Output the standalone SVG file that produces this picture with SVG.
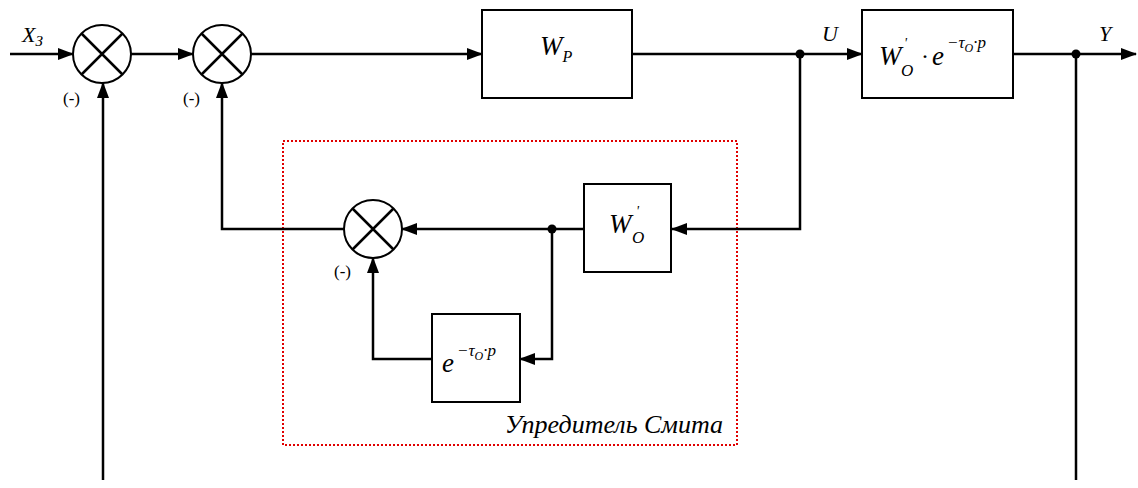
<svg xmlns="http://www.w3.org/2000/svg" width="1138" height="488" viewBox="0 0 1138 488">
<style>
.ln{fill:none;stroke:#000;stroke-width:2.5}
.bx{fill:#fff;stroke:#000;stroke-width:2}
.cr{fill:#fff;stroke:#000;stroke-width:2}
text{font-family:'Liberation Serif','Times New Roman',serif;fill:#000}
.t{font-style:italic}
.m{font-size:17px}
</style>
<defs>
<marker id="ar" markerWidth="16" markerHeight="12" refX="15" refY="6" orient="auto" markerUnits="userSpaceOnUse">
<path d="M0,0 L16,6 L0,12 Z" fill="#000"/>
</marker>
</defs>
<rect x="283" y="141" width="454" height="304" fill="none" stroke="#e00000" stroke-width="2" stroke-dasharray="2,2"/>
<g id="connectors">
<path class="ln" d="M10,54 H73" marker-end="url(#ar)"/>
<path class="ln" d="M131,54 H193" marker-end="url(#ar)"/>
<path class="ln" d="M251,54 H482" marker-end="url(#ar)"/>
<path class="ln" d="M632,54 H862" marker-end="url(#ar)"/>
<path class="ln" d="M1013,54 H1136" marker-end="url(#ar)"/>
<path class="ln" d="M103,480 V83" marker-end="url(#ar)"/>
<path class="ln" d="M344,229 H222 V83" marker-end="url(#ar)"/>
<path class="ln" d="M800,54 V229 H672" marker-end="url(#ar)"/>
<path class="ln" d="M1076,54 V480"/>
<path class="ln" d="M584,229 H402" marker-end="url(#ar)"/>
<path class="ln" d="M552,229 V359 H520" marker-end="url(#ar)"/>
<path class="ln" d="M432,359 H373 V258" marker-end="url(#ar)"/>
<circle cx="800" cy="54" r="4.5"/>
<circle cx="1076" cy="54" r="4.5"/>
<circle cx="552" cy="229" r="4.5"/>
</g>
<g id="sum1">
<circle class="cr" cx="102" cy="54" r="29"/>
<path class="ln" d="M81.5,33.5 L122.5,74.5 M122.5,33.5 L81.5,74.5" stroke-width="2"/>
<text class="m" x="63" y="104">(-)</text>
</g>
<g id="sum2">
<circle class="cr" cx="222" cy="54" r="29"/>
<path class="ln" d="M201.5,33.5 L242.5,74.5 M242.5,33.5 L201.5,74.5" stroke-width="2"/>
<text class="m" x="183" y="104">(-)</text>
</g>
<g id="sum3">
<circle class="cr" cx="373" cy="229" r="29"/>
<path class="ln" d="M352.5,208.5 L393.5,249.5 M393.5,208.5 L352.5,249.5" stroke-width="2"/>
<text class="m" x="334" y="277">(-)</text>
</g>
<g id="labels">
<text class="t" x="22" y="42" font-size="22">X<tspan font-size="15" dy="4">З</tspan></text>
<text class="t" x="822" y="41" font-size="22">U</text>
<text class="t" x="1099" y="41" font-size="22">Y</text>
</g>
<g id="wp">
<rect class="bx" x="482" y="10" width="150" height="88"/>
<text class="t" x="540" y="55" font-size="27">W<tspan font-size="16" dy="7">P</tspan></text>
</g>
<g id="plant">
<rect class="bx" x="862" y="10" width="151" height="88"/>
<text class="t" x="879" y="65" font-size="27">W</text>
<text class="t" x="904" y="48" font-size="14">'</text>
<text class="t" x="901" y="76" font-size="17">O</text>
<text x="921" y="64" font-size="24">·</text>
<text class="t" x="932" y="65" font-size="27">e</text>
<text class="t" x="947" y="48" font-size="17">−τ<tspan font-size="12" dy="4">O</tspan><tspan dy="-4">·p</tspan></text>
</g>
<g id="model">
<rect class="bx" x="584" y="184" width="87" height="88"/>
<text class="t" x="609" y="233" font-size="27">W</text>
<text class="t" x="636" y="216" font-size="14">'</text>
<text class="t" x="632" y="243" font-size="17">O</text>
</g>
<g id="delay">
<rect class="bx" x="432" y="314" width="88" height="88"/>
<text class="t" x="442" y="372" font-size="27">e</text>
<text class="t" x="457" y="356" font-size="17">−τ<tspan font-size="12" dy="4">O</tspan><tspan dy="-4">·p</tspan></text>
</g>
<text class="t" x="723" y="433" font-size="26" text-anchor="end">Упредитель Смита</text>
</svg>
